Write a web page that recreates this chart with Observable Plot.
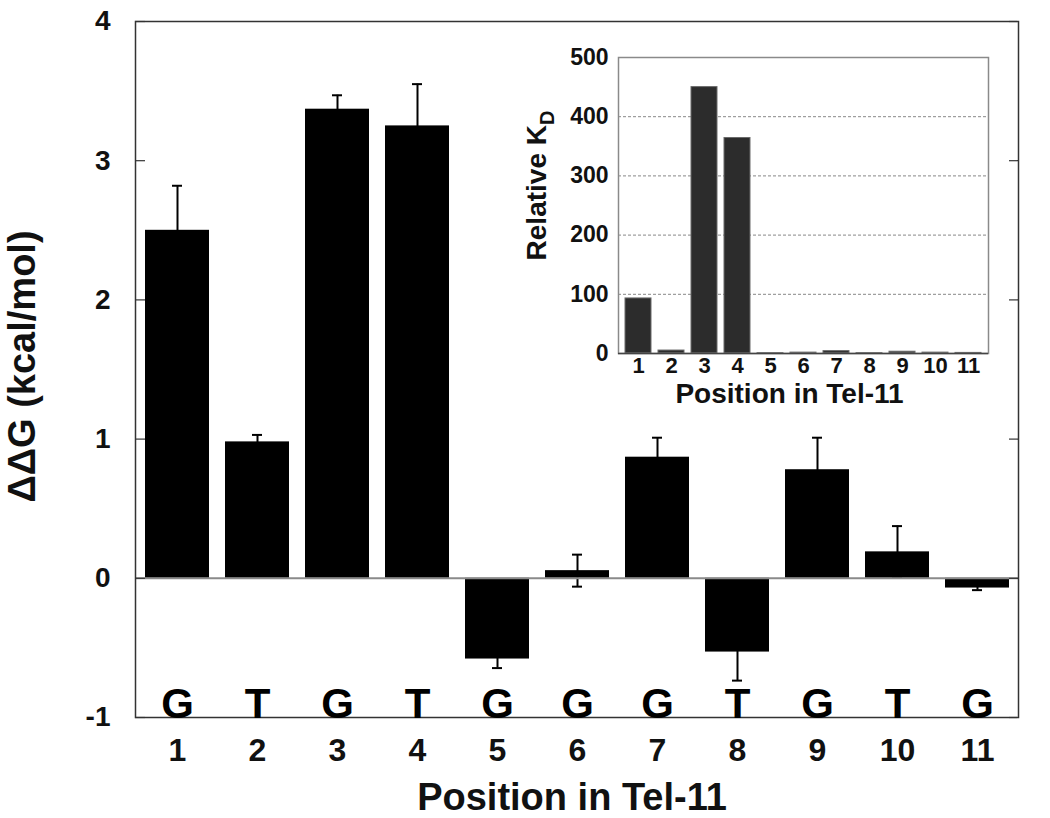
<!DOCTYPE html>
<html>
<head>
<meta charset="utf-8">
<script src="https://cdn.jsdelivr.net/npm/d3@7"></script>
<script src="https://cdn.jsdelivr.net/npm/@observablehq/plot@0.6"></script>
<style>
  body { margin: 0; background: white; }
  #wrap { position: relative; width: 1050px; height: 818px; }
  #wrap svg { position: absolute; }
</style>
</head>
<body>
<div id="wrap"></div>
<script>
// ---- data ----
const positions = ["1","2","3","4","5","6","7","8","9","10","11"];
const bases = ["G","T","G","T","G","G","G","T","G","T","G"];
const ddG = [2.50, 0.98, 3.37, 3.25, -0.58, 0.055, 0.87, -0.53, 0.78, 0.19, -0.07];
const ddGErr = [0.32, 0.05, 0.10, 0.30, 0.065, 0.115, 0.14, 0.205, 0.23, 0.185, 0.015];
const relKd = [93, 5, 450, 364, 0.5, 1.5, 4, 0.5, 3, 1.5, 1];
const mainYTicks = [-1, 0, 1, 2, 3, 4];
const insetYTicks = [0, 100, 200, 300, 400, 500];
const insetGrid = [100, 200, 300, 400];
const mainXLabel = "Position in Tel-11";
const mainYLabel = "ΔΔG (kcal/mol)";
const insetXLabel = "Position in Tel-11";
const insetYLabel = "Relative K";
const insetYSub = "D";

const mainData = positions.map((p, i) => ({pos: p, base: bases[i], v: ddG[i], e: ddGErr[i]}));
const insetData = positions.map((p, i) => ({pos: p, v: relKd[i]}));

const font = "'Liberation Sans', Arial, Helvetica, sans-serif";
const fmt = d => (d < 0 ? "-" : "") + Math.abs(d);
const wrap = document.getElementById("wrap");

// ---- main chart ----
const W = 1050, H = 818;
const mL = 135, mR = 32, mT = 21, mB = 101;
const pw = W - mL - mR;

const main = Plot.plot({
  width: W, height: H,
  marginLeft: mL, marginRight: mR, marginTop: mT, marginBottom: mB,
  style: {fontFamily: font, background: "white", color: "#111", overflow: "visible"},
  x: {type: "band", domain: positions, paddingInner: 0.2, paddingOuter: 0.09, axis: null},
  y: {domain: [-1, 4], axis: null},
  marks: [
    Plot.barY(mainData, {x: "pos", y: "v", fill: "black"}),
    Plot.ruleX(mainData, {x: "pos", y1: d => d.v - d.e, y2: d => d.v + d.e, stroke: "black", strokeWidth: 2}),
    Plot.tickY(mainData, {x: "pos", y: d => d.v + d.e, stroke: "black", strokeWidth: 2, insetLeft: 27, insetRight: 27}),
    Plot.tickY(mainData, {x: "pos", y: d => d.v - d.e, stroke: "black", strokeWidth: 2, insetLeft: 27, insetRight: 27}),
    Plot.ruleY([0], {stroke: "#8a8a8a", strokeWidth: 2}),
    Plot.frame({stroke: "#333", strokeWidth: 1.5}),
    Plot.ruleY(mainYTicks, {stroke: "#333", strokeWidth: 1.2, insetRight: pw - 10}),
    Plot.ruleY(mainYTicks, {stroke: "#333", strokeWidth: 1.2, insetLeft: pw - 9}),
    Plot.text(mainData, {x: "pos", text: "base", frameAnchor: "bottom", lineAnchor: "bottom", fontSize: 42, fontWeight: "bold", fill: "black"}),
    Plot.axisY(mainYTicks, {tickSize: 0, tickPadding: 25, tickFormat: fmt, fontSize: 28, fontWeight: "bold", fill: "#111", label: null}),
    Plot.axisX({tickSize: 0, tickPadding: 21, fontSize: 32, fontWeight: "bold", fill: "#111", label: null}),
    Plot.text([mainXLabel], {frameAnchor: "bottom", textAnchor: "middle", lineAnchor: "bottom", dy: 92, dx: -5, fontSize: 38, fontWeight: "bold", fill: "#111"}),
    Plot.text([mainYLabel], {frameAnchor: "left", textAnchor: "middle", rotate: -90, dx: -113, dy: -3, fontSize: 38, fontWeight: "bold", fill: "#111"})
  ]
});
main.style.left = "0px";
main.style.top = "0px";
wrap.appendChild(main);

// ---- inset chart ----
const iW = 540, iH = 420;
const iL = 118, iR = 52, iT = 57, iB = 67;

const inset = Plot.plot({
  width: iW, height: iH,
  marginLeft: iL, marginRight: iR, marginTop: iT, marginBottom: iB,
  style: {fontFamily: font, background: "transparent", color: "#111", overflow: "visible"},
  x: {type: "band", domain: positions, paddingInner: 0.2, paddingOuter: 0.12, axis: null},
  y: {domain: [0, 500], axis: null},
  marks: [
    Plot.ruleY(insetGrid, {stroke: "#888", strokeWidth: 1, strokeDasharray: "3,2"}),
    Plot.barY(insetData, {x: "pos", y: "v", fill: "#2c2c2c", stroke: "#6a6a6a", strokeWidth: 1}),
    Plot.frame({stroke: "#8a8a8a", strokeWidth: 1.5}),
    Plot.ruleY([0], {stroke: "#444", strokeWidth: 1.5}),
    Plot.axisY(insetYTicks, {tickSize: 0, tickPadding: 10, fontSize: 23, fontWeight: "bold", fill: "#111", label: null}),
    Plot.axisX({tickSize: 0, tickPadding: 4, fontSize: 22, fontWeight: "bold", fill: "#111", label: null}),
    Plot.text([insetXLabel], {frameAnchor: "bottom", textAnchor: "middle", lineAnchor: "bottom", dy: 49, dx: -14, fontSize: 28, fontWeight: "bold", fill: "#111"}),
    Plot.text([insetYLabel + insetYSub], {frameAnchor: "left", textAnchor: "middle", rotate: -90, dx: -81, dy: -20, fontSize: 28, fontWeight: "bold", fill: "#111"})
  ]
});
inset.style.left = "500px";
inset.style.top = "0px";
wrap.appendChild(inset);

// turn the trailing "D" into a subscript
d3.select(inset).selectAll("text").each(function() {
  if (this.textContent === insetYLabel + insetYSub) {
    const t = d3.select(this);
    t.text(insetYLabel);
    t.append("tspan").attr("font-size", 20).attr("dy", "0.4em").text(insetYSub);
  }
});
</script>
</body>
</html>
